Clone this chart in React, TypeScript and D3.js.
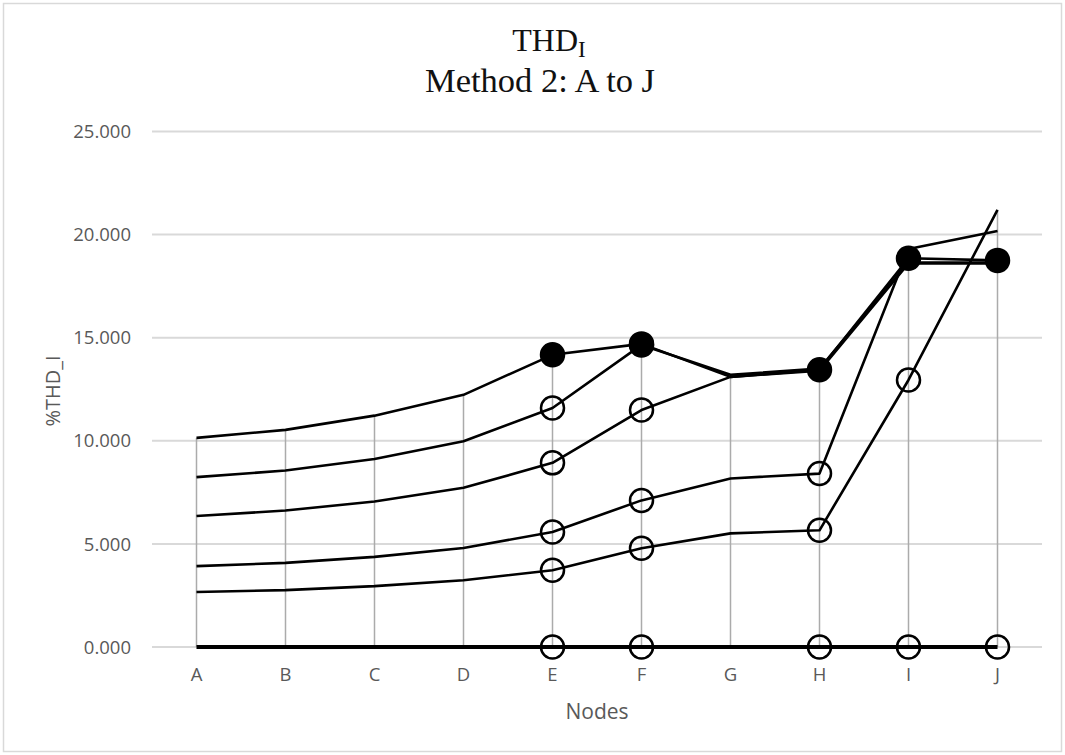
import React from "react";
import * as d3 from "d3";

const nodes = ["A", "B", "C", "D", "E", "F", "G", "H", "I", "J"];
const yTicks = [0, 5, 10, 15, 20, 25];

const series0 = [0, 0, 0, 0, 0, 0, 0, 0, 0, 0];
const series1 = [2.67, 2.76, 2.95, 3.24, 3.72, 4.79, 5.51, 5.66, 12.95, 21.2];
const series2 = [3.92, 4.08, 4.37, 4.8, 5.58, 7.11, 8.17, 8.41, 19.3, 20.17];
const series3 = [6.35, 6.62, 7.06, 7.72, 8.93, 11.49, 13.1, 13.4, 18.6, 18.6];
const series4 = [8.24, 8.56, 9.12, 9.98, 11.59, 14.65, 13.2, 13.5, 18.65, 18.65];
const series5 = [10.14, 10.53, 11.22, 12.23, 14.17, 14.7, 13.1, 13.45, 18.85, 18.75];

// marker kind per node: "o" open circle, "f" filled circle, "" none
const markers0 = ["", "", "", "", "o", "o", "", "o", "o", "o"];
const markers1 = ["", "", "", "", "o", "o", "", "o", "o", ""];
const markers2 = ["", "", "", "", "o", "o", "", "o", "", ""];
const markers3 = ["", "", "", "", "o", "o", "", "", "", ""];
const markers4 = ["", "", "", "", "o", "f", "", "", "", ""];
const markers5 = ["", "", "", "", "f", "f", "", "f", "f", "f"];

const seriesList = [series0, series1, series2, series3, series4, series5];
const markerList = [markers0, markers1, markers2, markers3, markers4, markers5];
const lineWidths = [4, 2.6, 2.6, 2.6, 2.6, 2.6];

const W = 1065;
const H = 755;
const plotLeft = 152;
const plotRight = 1042;
const yZero = 647;
const yTop = 131.5;

export default function App() {
  const x = d3.scaleBand<string>().domain(nodes).range([plotLeft, plotRight]);
  const cx = (n: string) => (x(n) as number) + x.bandwidth() / 2;
  const y = d3.scaleLinear().domain([0, 25]).range([yZero, yTop]);
  const line = d3
    .line<number>()
    .x((_, i) => cx(nodes[i]))
    .y((d) => y(d));

  const tickFont = "'Open Sans', sans-serif";
  const grey = "#595959";

  return (
    <svg
      width={W}
      height={H}
      style={{ position: "absolute", left: 0, top: 0, background: "#fff" }}
    >
      <rect x={0} y={0} width={W} height={H} fill="#fff" />
      <rect x={3.5} y={3.5} width={W - 7} height={H - 7} fill="none" stroke="#d9d9d9" strokeWidth={1.5} />

      {/* Title */}
      <text
        x={549}
        y={51}
        textAnchor="middle"
        fontFamily="'Liberation Serif', serif"
        fontSize={32}
        fill="#111"
      >
        THD
        <tspan fontSize={23} dy={6}>I</tspan>
      </text>
      <text
        x={540}
        y={92}
        textAnchor="middle"
        fontFamily="'Liberation Serif', serif"
        fontSize={34.5}
        fill="#111"
      >
        Method 2: A to J
      </text>

      {/* horizontal gridlines */}
      {yTicks.map((t) => (
        <g key={"g" + t}>
          <line x1={plotLeft} x2={plotRight} y1={y(t)} y2={y(t)} stroke="#d9d9d9" strokeWidth={2} />
          <text
            x={131}
            y={y(t)}
            dy="0.36em"
            textAnchor="end"
            fontFamily={tickFont}
            fontSize={18.5}
            fill={grey}
          >
            {d3.format(".3f")(t)}
          </text>
        </g>
      ))}

      {/* drop lines from min to max at each node */}
      {nodes.map((n, i) => {
        const vals = seriesList.map((s) => s[i]);
        return (
          <line
            key={"d" + n}
            x1={cx(n)}
            x2={cx(n)}
            y1={y(d3.min(vals) as number)}
            y2={y(d3.max(vals) as number)}
            stroke="#ababab"
            strokeWidth={1.5}
          />
        );
      })}

      {/* x tick labels */}
      {nodes.map((n) => (
        <text
          key={"x" + n}
          x={cx(n)}
          y={681}
          textAnchor="middle"
          fontFamily={tickFont}
          fontSize={18.5}
          fill={grey}
        >
          {n}
        </text>
      ))}

      {/* series lines */}
      {seriesList.map((s, si) => (
        <path
          key={"s" + si}
          d={line(s) as string}
          fill="none"
          stroke="#000"
          strokeWidth={lineWidths[si]}
          strokeLinejoin="round"
        />
      ))}

      {/* markers */}
      {seriesList.map((s, si) =>
        s.map((v, i) => {
          const m = markerList[si][i];
          if (!m) return null;
          return (
            <circle
              key={"m" + si + "-" + i}
              cx={cx(nodes[i])}
              cy={y(v)}
              r={11.5}
              fill={m === "f" ? "#000" : "none"}
              stroke="#000"
              strokeWidth={2.5}
            />
          );
        })
      )}

      {/* axis titles */}
      <text
        x={597}
        y={719}
        textAnchor="middle"
        fontFamily={tickFont}
        fontSize={21}
        fill={grey}
      >
        Nodes
      </text>
      <text
        transform={`translate(60, ${391}) rotate(-90)`}
        textAnchor="middle"
        fontFamily={tickFont}
        fontSize={20}
        fill={grey}
      >
        %THD_I
      </text>
    </svg>
  );
}
